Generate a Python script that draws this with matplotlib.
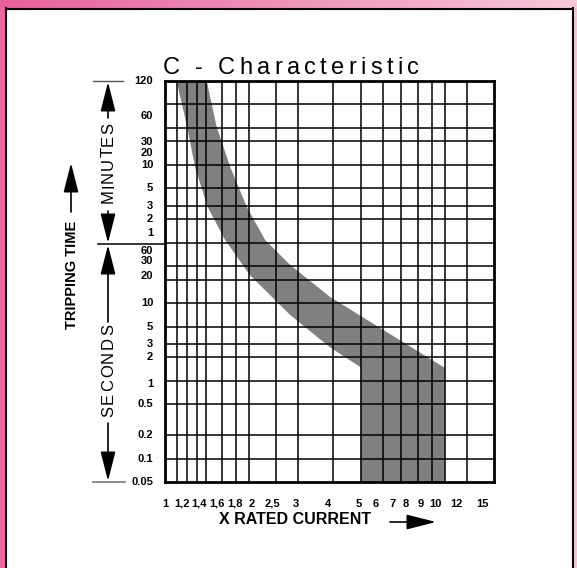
import numpy as np
import matplotlib.pyplot as plt
from matplotlib.colors import LinearSegmentedColormap
from matplotlib.ticker import NullFormatter
from matplotlib.transforms import blended_transform_factory, ScaledTranslation

# multiples of rated current
x_grid = [1.1, 1.2, 1.3, 1.4, 1.6, 1.8, 2, 2.5, 3, 4, 5, 6, 7, 8, 9, 10, 12]
x_ticks = [1, 1.2, 1.4, 1.6, 1.8, 2, 2.5, 3, 4, 5, 6, 7, 8, 9, 10, 12, 15]
x_labels = ['1', '1,2', '1,4', '1,6', '1,8', '2', '2,5', '3', '4', '5',
            '6', '7', '8', '9', '10', '12', '15']

# tripping time grid, seconds part and minutes part
sec_grid = [0.1, 0.2, 0.5, 1, 2, 3, 5, 10, 20, 30, 60]
min_grid = [2, 3, 5, 10, 20, 30, 60]
sec_labels = [0.05, 0.1, 0.2, 0.5, 1, 2, 3, 5, 10, 20, 30, 60]
min_labels = [1, 2, 3, 5, 10, 20, 30, 60, 120]

# tripping band: slow edge and fast edge (current, time in s)
hi_I = [1.41, 1.53, 1.71, 1.96, 2.28, 2.8, 3.89, 10, 10]
hi_t = [7200, 1853, 566, 173, 65, 31, 12, 1.47, 0.05]
lo_I = [1.10, 1.20, 1.28, 1.42, 1.64, 2.01, 2.80, 3.89, 5, 5]
lo_t = [7200, 1853, 566, 173, 65, 23, 7.05, 2.7, 1.5, 0.05]

W, H = 577, 568
plt.rcParams['font.family'] = ['Liberation Sans', 'DejaVu Sans']


def fx(px):
    return px / W


def fy(py):
    return 1 - py / H


fig = plt.figure(figsize=(W / 100, H / 100), dpi=100)
rend = fig.canvas.get_renderer()


def text_width(s, **kw):
    t = fig.text(0, 0, s, **kw)
    w = t.get_window_extent(rend).width
    t.remove()
    return w


def spaced(x0, y0, s, gap, vertical=False, **kw):
    # letter-spaced text, x0/y0 = start of baseline in pixels
    bar = text_width('||', **kw)
    pos = 0
    for ch in s:
        w = text_width('|' + ch + '|', **kw) - bar
        if vertical:
            fig.text(fx(x0), fy(y0 - pos), ch, rotation=90, rotation_mode='anchor',
                     ha='left', va='baseline', **kw)
        else:
            fig.text(fx(x0 + pos), fy(y0), ch, ha='left', va='baseline', **kw)
        pos += w + gap
    return pos - gap


# pink frame
grad = fig.add_axes([0, fy(8), 1, 8 / H])
cmap = LinearSegmentedColormap.from_list('pk', ['#e8609a', '#f7c9d9'])
grad.imshow(np.linspace(0, 1, 256)[None, :], aspect='auto', cmap=cmap)
grad.axis('off')
side = fig.add_axes([0, 0, fx(5), fy(8)])
side.set_facecolor('#ea6aa0')
side.set_xticks([]); side.set_yticks([])
for s in side.spines.values():
    s.set_visible(False)
side_r = fig.add_axes([fx(573), 0, fx(4), fy(8)])
side_r.set_facecolor('#f6c6d7')
side_r.set_xticks([]); side_r.set_yticks([])
for s in side_r.spines.values():
    s.set_visible(False)
fig.add_artist(plt.Line2D([fx(6), fx(6)], [0, fy(8)], color='k', lw=1.5))
fig.add_artist(plt.Line2D([fx(572.5), fx(572.5)], [0, fy(8)], color='k', lw=1.5))
fig.add_artist(plt.Line2D([fx(6), fx(572.5)], [fy(8.5), fy(8.5)], color='k', lw=1.5))

ax = fig.add_axes([fx(165), fy(482), (494 - 165) / W, (482 - 81) / H])
ax.set_xscale('log')
ax.set_yscale('log')
ax.set_xlim(1, 15)
ax.set_ylim(0.05, 7200)

ax.fill(hi_I + lo_I[::-1], hi_t + lo_t[::-1], color='#808080', lw=0, zorder=1)

ax.xaxis.remove_overlapping_locs = False
ax.set_xticks(x_ticks, x_labels)
ax.set_xticks(x_grid, minor=True)
ax.set_yticks([])
ax.set_yticks(sec_grid + [m * 60 for m in min_grid], minor=True)
ax.xaxis.set_minor_formatter(NullFormatter())
ax.yaxis.set_minor_formatter(NullFormatter())
ax.tick_params(which='both', length=0)
ax.tick_params(axis='x', pad=12, labelsize=8)
# the printed labels sit a little off their grid lines
x_shift = [0, -5, -7, -5, -1, 3, -4, -3, -5, -2, -7, -9, -12, -11, -9, -10, -12]
for lab, dx in zip(ax.get_xticklabels(), x_shift):
    lab.set_fontweight('bold')
    lab.set_transform(lab.get_transform() + ScaledTranslation(dx / 100, 0, fig.dpi_scale_trans))
ax.grid(which='minor', color='k', lw=1.1, zorder=2)
ax.set_axisbelow(False)
for s in ax.spines.values():
    s.set_linewidth(2)
    s.set_zorder(3)

# y labels
tr = blended_transform_factory(ax.transAxes, ax.transData)
sec_shift = {60: -8, 30: 5, 20: 4, 1: -3}
min_shift = {1: 10, 60: -12, 30: -14, 20: -12}
for v in sec_labels:
    off = ScaledTranslation(0, sec_shift.get(v, 0) / 100, fig.dpi_scale_trans)
    ax.text(-0.036, v, f'{v:g}', transform=tr + off, ha='right', va='center',
            fontsize=8, fontweight='bold')
for v in min_labels:
    off = ScaledTranslation(0, min_shift.get(v, 0) / 100, fig.dpi_scale_trans)
    ax.text(-0.036, v * 60, f'{v:g}', transform=tr + off, ha='right', va='center',
            fontsize=8, fontweight='bold')

spaced(163, 74, 'C - Characteristic', 4.3, fontsize=17)

# left annotations
arr = dict(arrowstyle='-|>,head_length=1.3,head_width=0.33', color='k', lw=1.2,
           mutation_scale=14, shrinkA=0, shrinkB=0)
ann = dict(xycoords='figure fraction', textcoords='figure fraction')
ax.annotate('', xy=(fx(108), fy(82)), xytext=(fx(108), fy(118)), arrowprops=arr, **ann)
ax.annotate('', xy=(fx(108), fy(243)), xytext=(fx(108), fy(211)), arrowprops=arr, **ann)
ax.annotate('', xy=(fx(108), fy(245)), xytext=(fx(108), fy(322)), arrowprops=arr, **ann)
ax.annotate('', xy=(fx(108), fy(481)), xytext=(fx(108), fy(423)), arrowprops=arr, **ann)
ax.annotate('', xy=(fx(71), fy(163)), xytext=(fx(71), fy(212)), arrowprops=arr, **ann)
ax.annotate('', xy=(fx(436), fy(522)), xytext=(fx(390), fy(522)), arrowprops=arr, **ann)
fig.add_artist(plt.Line2D([fx(93), fx(123)], [fy(81), fy(81)], color='#555555', lw=1))
fig.add_artist(plt.Line2D([fx(98), fx(165)], [fy(244), fy(244)], color='k', lw=1.1))
fig.add_artist(plt.Line2D([fx(93), fx(125)], [fy(482), fy(482)], color='#777777', lw=1.2))

spaced(113, 203, 'MINUTES', 0.8, vertical=True, fontsize=12)
spaced(113, 417, 'SECONDS', 1.8, vertical=True, fontsize=12)
fig.text(fx(72), fy(275), 'TRIPPING TIME', rotation=90, ha='center', va='center',
         fontsize=10.5, fontweight='bold')
fig.text(fx(295), fy(520), 'X RATED CURRENT', ha='center', va='center',
         fontsize=11.5, fontweight='bold')

fig.savefig('out.png', dpi=100)
